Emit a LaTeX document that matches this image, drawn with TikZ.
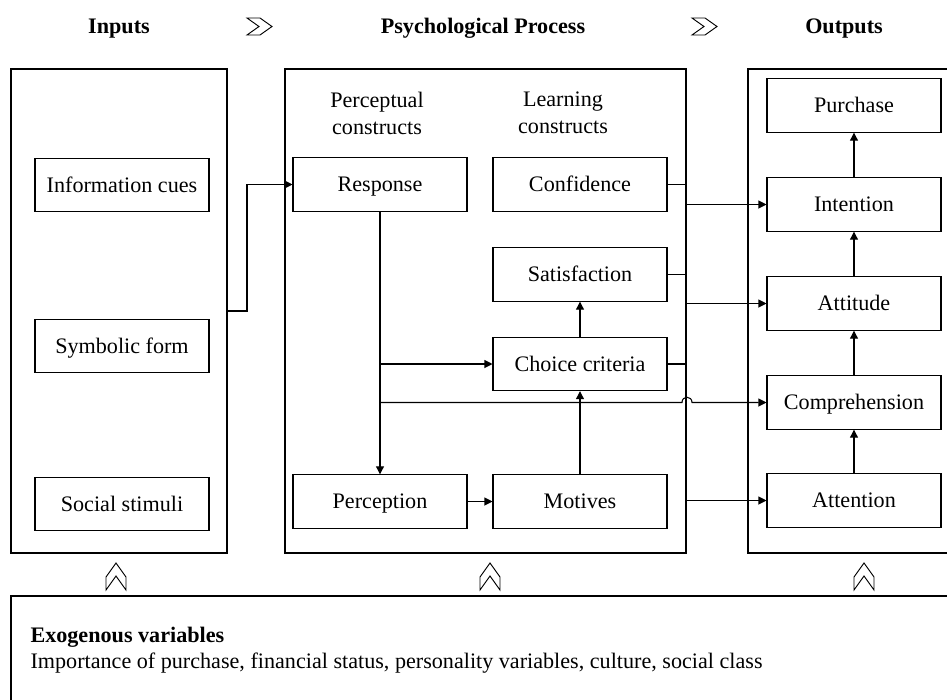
\documentclass[tikz,border=0pt]{standalone}
\usepackage{fontspec}
\setmainfont{Liberation Serif}
\usetikzlibrary{arrows.meta}
\begin{document}
\begin{tikzpicture}[x=0.75pt,y=-0.75pt, line width=0.8pt,
  every node/.style={font=\fontsize{16.6}{20.25}\selectfont},
  boxn/.style={draw, minimum width=130.5pt, minimum height=40pt, inner sep=0pt, text height=11.5pt, text depth=0.5pt},
  arr/.style={-{Triangle[length=6pt,width=6pt]}},
  hdr/.style={font=\fontsize{16.6}{20.25}\selectfont\bfseries, anchor=base},
  chev/.style={line width=0.7pt}]
\useasboundingbox (0,0) rectangle (947,700);
\begin{scope}
\clip (0,0) rectangle (947,700);
% outer frames
\draw (11,69) rectangle (227,553);
\draw (285,69) rectangle (686,553);
\draw (748,69) rectangle (965,553);
\draw (11,596) rectangle (965,710);
% headers
\node[hdr] (hin) at (119,33) {Inputs};
\node[hdr] (hpp) at (483,33) {Psychological Process};
\node[hdr] (hout) at (844,33) {Outputs};
\draw[chev] (247,18) -- (260,18) -- (272,26.5) -- (260,35) -- (247,35) -- (259,26.5) -- cycle;
\draw[chev] (692,18) -- (705,18) -- (717,26.5) -- (705,35) -- (692,35) -- (704,26.5) -- cycle;
\foreach \cx in {116,490,864}{
  \draw[chev] ({\cx-10},590) -- ({\cx-10},577) -- (\cx,563) -- ({\cx+10},577) -- ({\cx+10},590) -- (\cx,576) -- cycle;
}
% inputs
\node[boxn] (info) at (122,185) {Information cues};
\node[boxn] (symb) at (122,346) {Symbolic form};
\node[boxn] (soc) at (122,504) {Social stimuli};
% middle
\node[align=center] (perc) at (377,113) {Perceptual\\constructs};
\node[align=center] (learn) at (563,113) {Learning\\constructs};
\node[boxn] (resp) at (380,184.5) {Response};
\node[boxn] (conf) at (580,184.5) {Confidence};
\node[boxn] (sat) at (580,274.5) {Satisfaction};
\node[boxn] (choice) at (580,364) {Choice criteria};
\node[boxn] (percep) at (380,501.5) {Perception};
\node[boxn] (mot) at (580,501.5) {Motives};
% outputs
\node[boxn] (purch) at (854,105.5) {Purchase};
\node[boxn] (inten) at (854,204.5) {Intention};
\node[boxn] (att) at (854,303.5) {Attitude};
\node[boxn] (comp) at (854,402.5) {Comprehension};
\node[boxn] (atten) at (854,500.5) {Attention};
% bottom text
\node[anchor=base west, inner sep=0pt, font=\fontsize{16.6}{20.25}\selectfont\bfseries] (exo) at (30,642) {Exogenous variables};
\node[anchor=base west, inner sep=0pt] (exotxt) at (30,668) {Importance of purchase, financial status, personality variables, culture, social class};
% connectors
\coordinate (lout) at (227,311);
\draw[arr] (lout) -- (247,311) |- (resp.west);
\draw[arr] (resp.south) -- (percep.north);
\coordinate (b1) at (resp.south |- choice.west);
\draw[arr] (b1) -- (choice.west);
\coordinate (b2) at (380,402.5);
\draw[arr] (b2) -- (682,402.5) .. controls (682,395.5) and (692,395.5) .. (692,402.5) -- (comp.west);
\draw[arr] (percep.east) -- (mot.west);
\draw[arr] (mot.north) -- (choice.south);
\draw[arr] (choice.north) -- (sat.south);
\draw[arr] (conf.east) -- ++(19,0) |- (inten.west);
\draw[arr] (sat.east) -- ++(19,0) |- (att.west);
\draw[arr] (choice.east) -- ++(19,0) |- (atten.west);
\draw[arr] (atten.north) -- (comp.south);
\draw[arr] (comp.north) -- (att.south);
\draw[arr] (att.north) -- (inten.south);
\draw[arr] (inten.north) -- (purch.south);
\end{scope}
\end{tikzpicture}
\end{document}
